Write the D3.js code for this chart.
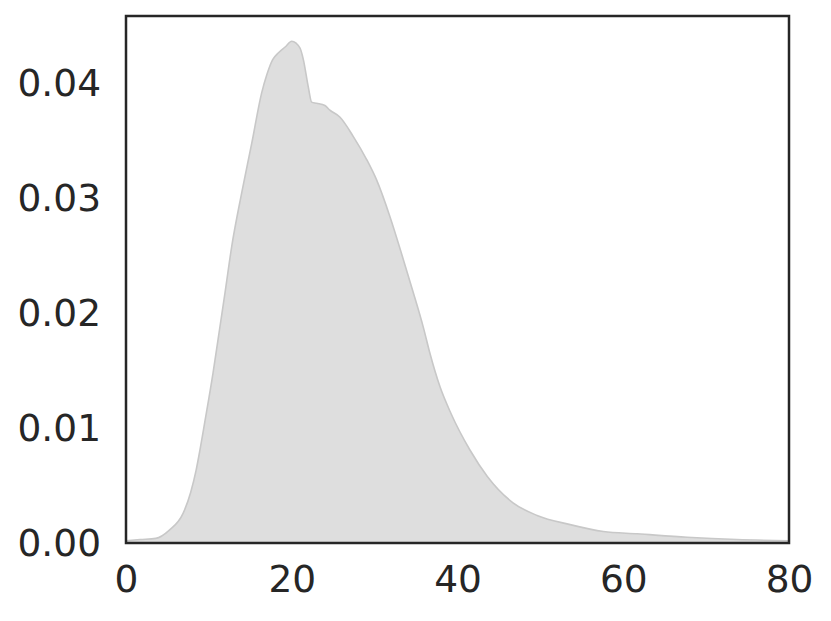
<!DOCTYPE html>
<html>
<head>
<meta charset="utf-8">
<script src="https://cdn.jsdelivr.net/npm/d3@7"></script>
<style>
  html, body { margin: 0; padding: 0; background: #fff; }
  svg { display: block; }
</style>
</head>
<body>
<svg id="chart" width="831" height="621"></svg>
<script>
// Data (x value, density)
const xs = [0, 1.7, 3.6, 5.2, 6.9, 7.8, 8.45, 8.9, 9.5, 10.5, 11.35, 11.95, 12.75, 13.96, 15.17, 16.37, 17.0, 17.7, 18.4, 19.2, 20.0, 21.0, 21.4, 22.0, 22.4, 23.0, 24.0, 24.6, 25.8, 27.43, 29.04, 30.25, 31.86, 33.46, 34.67, 35.87, 36.68, 37.89, 39.2, 41.5, 43.6, 46.7, 49.6, 53.6, 57.6, 61.7, 67.7, 73.7, 80];
const density = [0.0002, 0.0003, 0.0004, 0.0011, 0.0026, 0.0044, 0.0063, 0.0080, 0.0105, 0.0148, 0.0189, 0.0218, 0.0258, 0.0305, 0.0348, 0.0392, 0.0408, 0.0421, 0.0427, 0.0432, 0.0437, 0.0431, 0.0421, 0.0397, 0.0384, 0.0383, 0.0381, 0.0377, 0.0371, 0.0354, 0.0334, 0.0316, 0.0284, 0.0247, 0.0218, 0.0188, 0.0165, 0.0136, 0.0113, 0.0081, 0.0058, 0.0035, 0.0024, 0.0016, 0.0010, 0.0008, 0.0005, 0.0003, 0.0002];
const xTicks = [0, 20, 40, 60, 80];
const yTicks = [0.00, 0.01, 0.02, 0.03, 0.04];
const xDomain = [0, 80];
const yDomain = [0, 0.0459];

(function () {
const svg = d3.select("#chart");
const pL = 126, pR = 789, pT = 16, pB = 543;

const x = d3.scaleLinear().domain(xDomain).range([pL, pR]);
const y = d3.scaleLinear().domain(yDomain).range([pB, pT]);

const pts = xs.map((v, i) => ({x: v, y: density[i]}));

svg.append("defs").append("clipPath").attr("id", "clip")
  .append("rect").attr("x", pL).attr("y", pT).attr("width", pR - pL).attr("height", pB - pT);

const area = d3.area().x(d => x(d.x)).y0(y(0)).y1(d => y(d.y)).curve(d3.curveMonotoneX);
const line = d3.line().x(d => x(d.x)).y(d => y(d.y)).curve(d3.curveMonotoneX);

const g = svg.append("g").attr("clip-path", "url(#clip)");
g.append("path").datum(pts).attr("d", area).attr("fill", "#dedede").attr("stroke", "none");
g.append("path").datum(pts).attr("d", line).attr("fill", "none").attr("stroke", "#c8c8c8").attr("stroke-width", 1.6);

const font = "'DejaVu Sans', sans-serif";

const xAxis = d3.axisBottom(x).tickValues(xTicks).tickSize(0).tickPadding(22).tickFormat(d3.format("d"));
const gx = svg.append("g").attr("transform", `translate(0,${pB})`).call(xAxis);
gx.select(".domain").remove();
gx.selectAll("text").attr("font-family", font).attr("font-size", "37.5px").attr("fill", "#262626");

const yAxis = d3.axisLeft(y).tickValues(yTicks).tickSize(0).tickPadding(25).tickFormat(d3.format(".2f"));
const gy = svg.append("g").attr("transform", `translate(${pL},0)`).call(yAxis);
gy.select(".domain").remove();
gy.selectAll("text").attr("font-family", font).attr("font-size", "37.5px").attr("fill", "#262626");

svg.append("rect").attr("x", pL).attr("y", pT).attr("width", pR - pL).attr("height", pB - pT)
  .attr("fill", "none").attr("stroke", "#262626").attr("stroke-width", 2.5);
})();
</script>
</body>
</html>
